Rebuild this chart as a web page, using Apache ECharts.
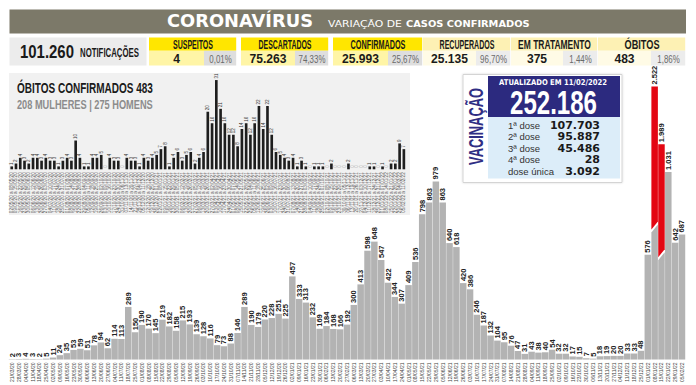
<!DOCTYPE html>
<html><head><meta charset="utf-8">
<script src="https://cdn.jsdelivr.net/npm/echarts@6/dist/echarts.min.js"></script>
<style>html,body{margin:0;padding:0;background:#fff}#c{width:696px;height:385px}</style>
</head><body><div id="c"></div>
<script>
// ---------- DATA ----------
const weeks = ['21/03/20','28/03/20','04/04/20','11/04/20','18/04/20','25/04/20','02/05/20','09/05/20','16/05/20','23/05/20','30/05/20','06/06/20','13/06/20','20/06/20','27/06/20','04/07/20','11/07/20','18/07/20','25/07/20','01/08/20','08/08/20','15/08/20','22/08/20','29/08/20','05/09/20','12/09/20','19/09/20','26/09/20','03/10/20','10/10/20','17/10/20','24/10/20','31/10/20','07/11/20','14/11/20','21/11/20','28/11/20','05/12/20','12/12/20','19/12/20','26/12/20',
'02/01/21','09/01/21','16/01/21','23/01/21','30/01/21','06/02/21','13/02/21','20/02/21','27/02/21','06/03/21','13/03/21','20/03/21','27/03/21','03/04/21','10/04/21','17/04/21','24/04/21','01/05/21','08/05/21','15/05/21','22/05/21','29/05/21','05/06/21','12/06/21','19/06/21','26/06/21','03/07/21','10/07/21','17/07/21','24/07/21','31/07/21','07/08/21','14/08/21','21/08/21','28/08/21','04/09/21','11/09/21','18/09/21','25/09/21','02/10/21','09/10/21','16/10/21','23/10/21','30/10/21','06/11/21','13/11/21','20/11/21','27/11/21','04/12/21','11/12/21','18/12/21','25/12/21',
'01/01/22','08/01/22','15/01/22','22/01/22','29/01/22','05/02/22'];
const cases = [2,3,4,3,2,5,11,24,35,53,59,51,78,94,62,114,113,289,150,190,170,145,219,182,158,215,193,139,128,116,79,73,88,146,289,190,179,220,228,251,225,457,333,313,232,169,184,168,166,192,300,413,598,648,547,422,344,307,409,536,798,863,979,863,640,618,420,386,246,187,132,104,95,76,47,31,43,38,40,54,32,32,17,15,7,5,18,19,20,20,33,33,48,576,2522,1989,1031,642,687];
const deaths = [1,2,4,3,2,4,4,3,4,3,3,1,3,4,3,10,4,1,1,4,4,5,0,4,3,3,0,4,3,3,1,4,3,4,5,7,8,1,4,6,3,5,6,2,4,6,20,16,31,21,16,
12,12,8,14,16,12,16,22,14,22,12,6,5,4,3,4,1,3,1,0,1,1,1,0,2,0,0,0,2,0,0,0,0,1,1,0,1,0,2,2,9,7];
const statLabels = ['SUSPEITOS','DESCARTADOS','CONFIRMADOS','RECUPERADOS','EM TRATAMENTO','ÓBITOS'];
const statValues = ['4','75.263','25.993','25.135','375','483'];
const statPercents = ['0,01%','74,33%','25,67%','96,70%','1,44%','1,86%'];
const notifications = '101.260';
const deathTitle = 'ÓBITOS CONFIRMADOS 483';
const deathSplit = '208 MULHERES | 275 HOMENS';
const vacTotal = '252.186';
const vacDate = 'ATUALIZADO EM 11/02/2022';
const doseLabels = ['1ª dose','2ª dose','3ª dose','4ª dose','dose única'];
const doseValues = ['107.703','95.887','45.486','28','3.092'];

// week-range tick labels for the deaths panel (start a end of each week)
function weekRange(s) {
  const [d, m, y] = s.split('/').map(Number);
  const e = new Date(2000 + y, m - 1, d + 6);
  const p = n => String(n).padStart(2, '0');
  return `${s} a ${p(e.getDate())}/${p(e.getMonth() + 1)}/${p(e.getFullYear() % 100)}`;
}
const deathWeeks = weeks.slice(weeks.length - deaths.length).map(weekRange);

// ---------- STYLE / LAYOUT ----------
const SANS = "'Liberation Sans', Arial, sans-serif";
const NARROW = "'Liberation Sans Narrow', 'Liberation Sans', Arial, sans-serif";
const DEJAVU = "'DejaVu Sans', sans-serif";
const BREAK_LIMIT = 1500, BREAK_SCALE = 0.595, BREAK_CUT = 0.48;
const fmt = v => String(v).replace(/\B(?=(\d{3})+(?!\d))/g, '.');

const mctx = document.createElement('canvas').getContext('2d');
function fitScale(text, size, weight, family, w) {
  mctx.font = `${weight} ${size}px ${family}`;
  return w / mctx.measureText(text).width;
}
function txt(text, x, y, size, w, o = {}) {
  const weight = o.weight || 'bold', family = o.family || NARROW;
  const sx = o.sx || (w ? fitScale(text, size, weight, family, w) : 1);
  return {type: 'text', x, y, scaleX: sx, rotation: o.rot || 0, z: 20,
    style: {text, fill: o.color || '#1a1a1a', fontSize: size, fontWeight: weight, fontFamily: family,
      align: o.align || 'center', verticalAlign: 'middle'}};
}
function rect(x, y, w, h, fill, o = {}) {
  return Object.assign({type: 'rect', z: o.z == null ? 10 : o.z, shape: {x, y, width: w, height: h},
    style: Object.assign({fill}, o.style || {})});
}

const g = [];
// header band
g.push(rect(9.5, 9.5, 676.5, 24, '#7c7969'));
g.push(txt('CORONAVÍRUS', 240, 21.5, 17, 146, {family: DEJAVU, color: '#fff'}));
g.push(txt('VARIAÇÃO DE', 328, 23.6, 8.5, 74, {align: 'left', family: DEJAVU, weight: 'normal', color: '#fff'}));
g.push(txt('CASOS CONFIRMADOS', 406, 23.6, 8.5, 124, {align: 'left', family: DEJAVU, color: '#fff'}));
// notifications
g.push(rect(9.5, 37.5, 137, 28, '#ececec'));
g.push(txt(notifications, 20, 51.8, 18.5, 54, {align: 'left'}));
g.push(txt('NOTIFICAÇÕES', 80, 52.5, 13.5, 59, {align: 'left'}));
// stat boxes
const boxes = [[149,237,204],[241,329,295],[333,423,388],[423,511,476],[511,598,563],[598,686,651]];
const headW = [40,53,55,55,73,35];
statLabels.forEach((lab, i) => {
  const [x0, x1, xs] = boxes[i];
  const strong = i < 3;
  g.push(rect(x0, 37.5, x1 - x0 - 0.8, 13.3, strong ? '#ffe600' : '#fdf1b4'));
  g.push(rect(x0, 50.8, xs - x0, 14.7, strong ? '#fff5a6' : '#fffbe6'));
  g.push(rect(xs, 50.8, x1 - xs - 0.8, 14.7, strong ? '#dedede' : '#ececec'));
  g.push(txt(lab, (x0 + x1) / 2, 44.3, 12.5, headW[i]));
  g.push(txt(statValues[i], (x0 + xs) / 2, 58.6, 13, 0, {family: SANS, sx: 0.93}));
  g.push(txt(statPercents[i], (xs + x1) / 2, 58.6, 11, 0, {weight: 'normal', color: '#6a6a6a', sx: 0.72}));
});
// deaths panel
g.push(rect(9, 73, 401, 142, '#f1f1f1', {z: 0}));
g.push(txt(deathTitle, 17, 88.5, 14, 136, {align: 'left'}));
g.push(txt(deathSplit, 17, 105, 12, 136, {align: 'left', color: '#8c8c8c'}));
// vaccination card
g.push(rect(463, 74.5, 159, 108, '#fff', {style: {stroke: '#d4d4d4', lineWidth: 1, shadowBlur: 2, shadowColor: 'rgba(0,0,0,0.15)'}}));
g.push(txt('VACINAÇÃO', 477, 126.5, 19.5, 77, {rot: Math.PI / 2, color: '#2f2e84'}));
g.push(rect(488, 76, 132, 41, '#2c2a7f'));
g.push(txt(vacDate, 553, 82, 8, 108, {family: DEJAVU, color: '#fff'}));
g.push(txt(vacTotal, 553.5, 102.5, 33, 87, {family: SANS, color: '#fff'}));
g.push(rect(488, 117, 132, 61.5, '#dcedf9'));
doseLabels.forEach((lab, i) => {
  const y = 125 + 11.6 * i;
  g.push(txt(lab, 508, y, 9.5, 0, {align: 'left', family: SANS, weight: 'normal', color: '#333'}));
  g.push(txt(doseValues[i], 600, y, 11, 0, {align: 'right', family: DEJAVU, color: '#1a1a1a'}));
});

const chart = echarts.init(document.getElementById('c'), null, {renderer: 'svg'});
chart.setOption({
  animation: false,
  backgroundColor: '#fff',
  grid: [
    {left: 8.6, right: 10.6, top: 32, bottom: 22},
    {left: 9.6, right: 290, top: 74.3, bottom: 215.7}
  ],
  xAxis: [
    {type: 'category', gridIndex: 0, data: weeks, axisLine: {show: false}, axisTick: {show: false},
      axisLabel: {interval: 0, rotate: 90, fontSize: 5, color: '#444', margin: 3, fontFamily: NARROW}},
    {type: 'category', gridIndex: 1, data: deathWeeks, axisLine: {show: false}, axisTick: {show: false},
      axisLabel: {interval: 0, rotate: 90, fontSize: 4.6, color: '#555', margin: 3, fontFamily: NARROW}}
  ],
  yAxis: [
    {type: 'value', gridIndex: 0, min: 0, max: 1800, show: false},
    {type: 'value', gridIndex: 1, min: 0, max: 33, show: false}
  ],
  graphic: g,
  series: [
    {type: 'bar', xAxisIndex: 0, yAxisIndex: 0, silent: true,
      data: cases.map(v => v > BREAK_LIMIT ? '-' : v),
      barCategoryGap: '5%',
      itemStyle: {color: '#b3b3b3'},
      label: {show: true, position: 'top', rotate: 90, align: 'left', verticalAlign: 'middle', distance: 2,
        fontSize: 7.5, fontWeight: 'bold', color: '#222', fontFamily: NARROW, formatter: p => fmt(p.value)}},
    {type: 'custom', xAxisIndex: 0, yAxisIndex: 0, silent: true,
      data: cases.map((v, i) => [i, v]).filter(d => d[1] > BREAK_LIMIT),
      encode: {x: 0, y: 1},
      renderItem(params, api) {
        const i = api.value(0), v = api.value(1);
        const shown = v * BREAK_SCALE, cut = shown * BREAK_CUT;
        const base = api.coord([i, 0]), top = api.coord([i, shown]), mid = api.coord([i, cut]);
        const w = api.size([1, 0])[0] * 0.95;
        const x0 = base[0] - w / 2, x1 = base[0] + w / 2, s = 4, gap = 3;
        return {type: 'group', children: [
          {type: 'polygon', shape: {points: [[x0, base[1]], [x1, base[1]], [x1, mid[1] - s], [x0, mid[1] + s]]}, style: {fill: '#b3b3b3'}},
          {type: 'polygon', shape: {points: [[x0, mid[1] + s - gap], [x1, mid[1] - s - gap], [x1, top[1]], [x0, top[1]]]}, style: {fill: '#e30613'}},
          {type: 'text', x: base[0], y: top[1] - 2, rotation: Math.PI / 2,
            style: {text: fmt(v), align: 'left', verticalAlign: 'middle', fontSize: 7.5, fontWeight: 'bold', fill: '#222', fontFamily: NARROW}}
        ]};
      }},
    {type: 'bar', xAxisIndex: 1, yAxisIndex: 1, silent: true,
      data: deaths.map(v => v === 0 ? {value: 0, label: {color: '#b0b0b0'}} : v),
      barWidth: '62%',
      itemStyle: {color: '#1e1e1e'},
      label: {show: true, position: 'top', rotate: 90, align: 'left', verticalAlign: 'middle', distance: 1.5,
        fontSize: 4.5, color: '#333', fontFamily: NARROW}}
  ]
});
</script>
</body></html>
